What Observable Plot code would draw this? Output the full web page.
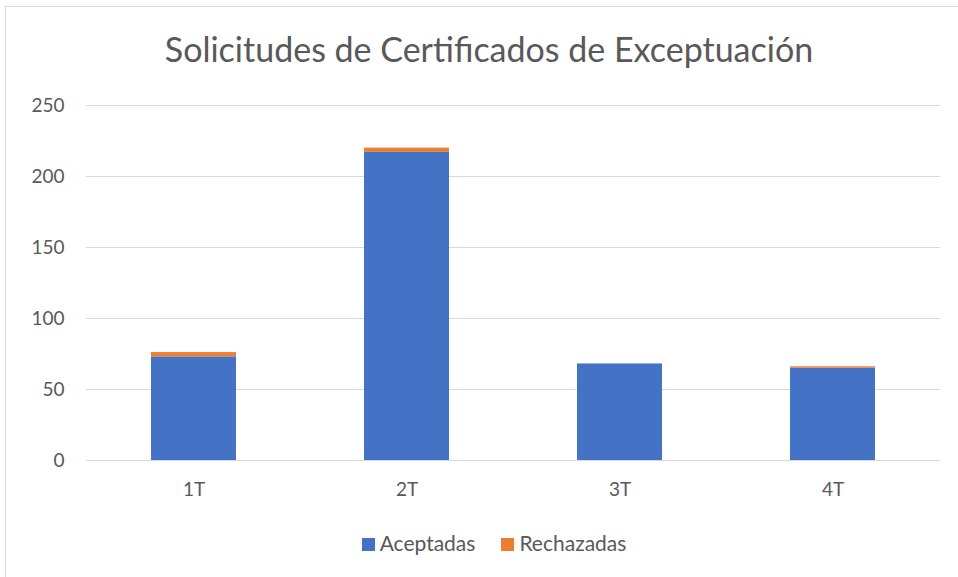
<!DOCTYPE html>
<html><head><meta charset="utf-8">
<script src="https://cdn.jsdelivr.net/npm/d3@7"></script>
<script src="https://cdn.jsdelivr.net/npm/@observablehq/plot@0.6"></script>
<style>
body{margin:0;background:#fff;font-family:Lato,"Open Sans",sans-serif;}
#wrap{position:relative;width:958px;height:577px;overflow:hidden;}
#frame{position:absolute;left:5px;top:6px;width:1000px;height:700px;border-left:1px solid #d9d9d9;border-top:1px solid #d9d9d9;}
#title{position:absolute;left:0;top:28px;width:978px;text-align:center;font-size:34px;color:#595959;}
#chart{position:absolute;left:0;top:90px;}
#legend{position:absolute;left:0;top:530px;width:988px;text-align:center;font-size:21px;color:#595959;}
.sw{display:inline-block;width:13px;height:13px;margin-right:5px;vertical-align:0px;}
.it{margin:0 13px;}
</style></head><body>
<div id="wrap"><div id="frame"></div>
<div id="title">Solicitudes de Certificados de Exceptuación</div>
<div id="chart"></div>
<div id="legend"></div>
</div>
<script>
const quarters = ["1T","2T","3T","4T"];
const aceptadas = [73, 217, 68, 65];
const rechazadas = [3, 3, 0, 1];
const seriesNames = ["Aceptadas","Rechazadas"];
const colors = ["#4472C4","#ED7D31"];
const yTicks = [0,50,100,150,200,250];

const data = [];
quarters.forEach((q,i)=>{
  data.push({q, s:seriesNames[0], v:aceptadas[i]});
  data.push({q, s:seriesNames[1], v:rechazadas[i]});
});

const plot = Plot.plot({
  width:958, height:420,
  marginTop:15, marginBottom:50, marginLeft:86, marginRight:18,
  style:{fontFamily:"Lato, 'Open Sans', sans-serif", fontSize:"19px", color:"#595959", background:"transparent"},
  x:{domain:quarters, label:null, paddingInner:0.6, paddingOuter:0.3},
  y:{domain:[0,250], label:null},
  color:{domain:seriesNames, range:colors},
  marks:[
    Plot.gridY(yTicks,{stroke:"#d9d9d9", strokeOpacity:1}),
    Plot.barY(data,{x:"q", y:"v", fill:"s", order:seriesNames}),
    Plot.axisY({ticks:yTicks, tickSize:0, tickPadding:22, label:null, fill:"#595959"}),
    Plot.axisX({tickSize:0, tickPadding:22, label:null, fill:"#595959"})
  ]
});
document.getElementById("chart").appendChild(plot);

const lg = document.getElementById("legend");
seriesNames.forEach((n,i)=>{
  const s = document.createElement("span"); s.className="it";
  s.innerHTML = `<span class="sw" style="background:${colors[i]}"></span>${n}`;
  lg.appendChild(s);
});
</script>
</body></html>
